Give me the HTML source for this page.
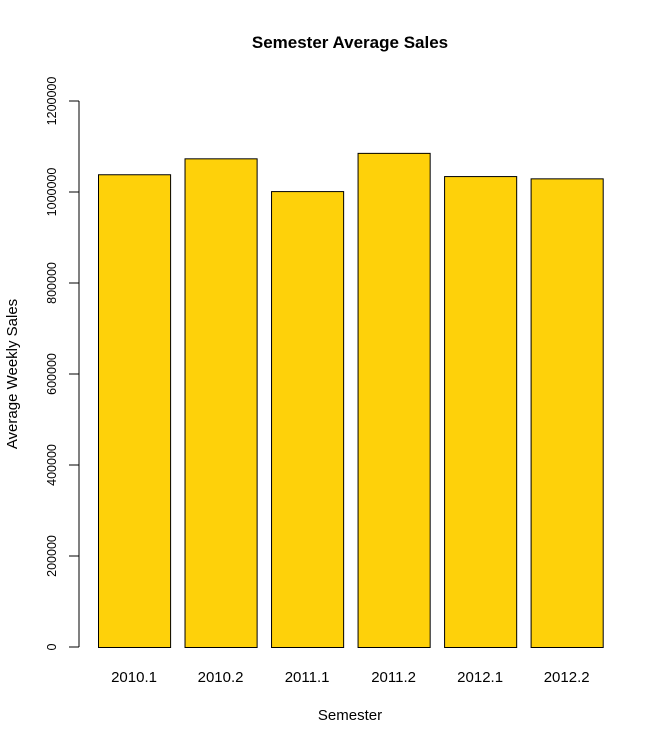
<!DOCTYPE html>
<html><head><meta charset="utf-8"><style>
body{margin:0;background:#fff}
svg{display:block;font-family:"Liberation Sans",Arial,sans-serif}
</style></head><body>
<svg id="chart" width="664" height="744">
<text x="350" y="48" text-anchor="middle" font-size="17" font-weight="bold">Semester Average Sales</text>
<text x="350" y="720" text-anchor="middle" font-size="15">Semester</text>
<text transform="translate(17,374) rotate(-90)" text-anchor="middle" font-size="15">Average Weekly Sales</text>
<g id="yaxis"></g>
<g id="bars"></g>
<g id="xlabels"></g>
</svg>
<script>
const categories=["2010.1","2010.2","2011.1","2011.2","2012.1","2012.2"];
const values=[1039000,1074000,1002000,1086000,1035000,1030000];
const yTicks=[0,200000,400000,600000,800000,1000000,1200000];
const NS="http://www.w3.org/2000/svg";
function y(v){return 647-v*(546/1200000);}
function x(u){return 98+(u-0.2)*72.1;}
const ya=document.getElementById('yaxis');
function mk(t,a,p){const e=document.createElementNS(NS,t);for(const k in a)e.setAttribute(k,a[k]);p.appendChild(e);return e;}
mk('line',{x1:79,x2:79,y1:y(0),y2:y(1200000),stroke:'#000'},ya);
yTicks.forEach(v=>{
  const l=mk('line',{x1:69,x2:79,y1:y(v),y2:y(v),stroke:'#000'},ya);
  
  
  const t=mk('text',{transform:`translate(56,${y(v)}) rotate(-90)`,'text-anchor':'middle','font-size':'12.5'},ya);
  t.textContent=String(v);
  
  
});
const bg=document.getElementById('bars'),xl=document.getElementById('xlabels');
categories.forEach((c,i)=>{
  const l=x(0.2+i*1.2),r=x(1.2+i*1.2);
  const b=mk('rect',{x:l+0.5,y:y(values[i])+0.5,width:r-l,height:y(0)-y(values[i]),fill:'#FED10A',stroke:'#000','stroke-width':1},bg);
  
  
  const t=mk('text',{x:(l+r)/2,y:682,'text-anchor':'middle','font-size':'15'},xl);
  t.textContent=c;
  
  
});
</script>
</body></html>
